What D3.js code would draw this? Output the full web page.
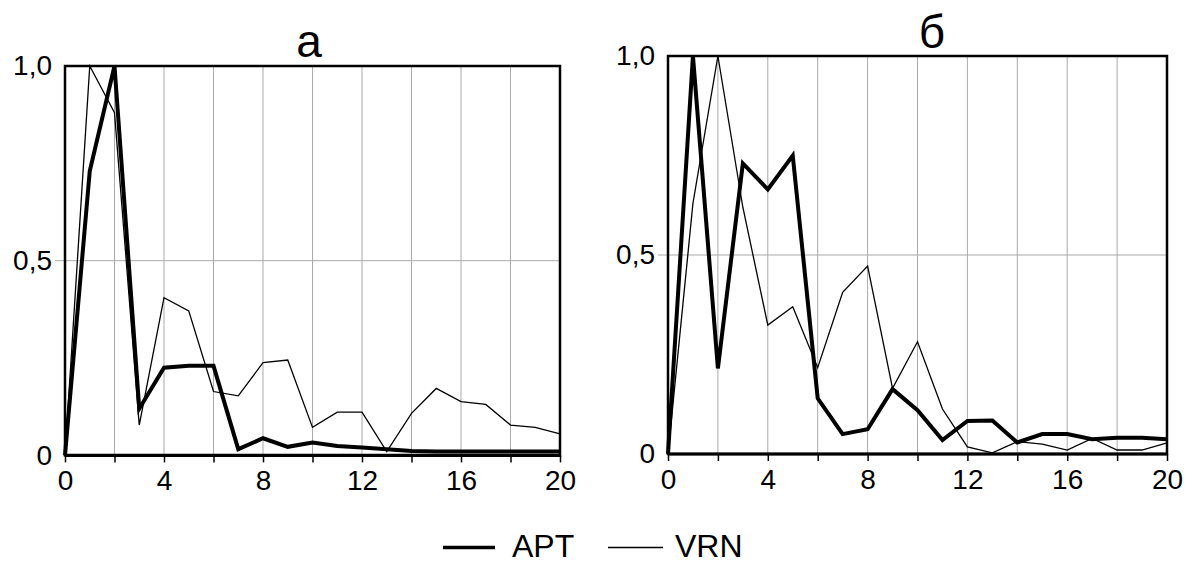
<!DOCTYPE html>
<html><head><meta charset="utf-8">
<script src="https://cdn.jsdelivr.net/npm/d3@7"></script>
<style>
body{margin:0;background:#fff;}
svg{display:block;font-family:"Liberation Sans",Arial,sans-serif;}
</style></head>
<body>
<svg id="c" width="1189" height="564"></svg>
<script>
const steps = d3.range(0, 21);
const xTicks = [0, 2, 4, 6, 8, 10, 12, 14, 16, 18, 20];
const yTicks = [0, 0.5, 1];
const yTickLabels = ["0", "0,5", "1,0"];
const panelTitles = ["а", "б"];
const seriesNames = ["APT", "VRN"];

const aptA = [0, 0.73, 1.0, 0.12, 0.225, 0.23, 0.23, 0.016, 0.044, 0.022, 0.033, 0.024, 0.02, 0.016, 0.011, 0.01, 0.01, 0.01, 0.01, 0.01, 0.01];
const vrnA = [0, 1.0, 0.88, 0.078, 0.405, 0.371, 0.164, 0.153, 0.238, 0.245, 0.072, 0.111, 0.111, 0.01, 0.108, 0.172, 0.138, 0.131, 0.078, 0.072, 0.055];
const aptB = [0, 1.0, 0.215, 0.73, 0.665, 0.75, 0.14, 0.05, 0.062, 0.163, 0.11, 0.035, 0.083, 0.084, 0.029, 0.05, 0.05, 0.037, 0.041, 0.041, 0.037];
const vrnB = [0, 0.63, 1.0, 0.62, 0.324, 0.37, 0.217, 0.406, 0.472, 0.165, 0.282, 0.113, 0.018, 0.003, 0.031, 0.025, 0.01, 0.039, 0.01, 0.01, 0.028];

const svg = d3.select("#c");

const panels = [
  {x0: 65, x1: 560, y0: 455.4, y1: 66, title: panelTitles[0], tx: 309, ty: 57, apt: aptA, vrn: vrnA},
  {x0: 668, x1: 1167, y0: 454, y1: 56, title: panelTitles[1], tx: 932, ty: 48, apt: aptB, vrn: vrnB}
];

panels.forEach(p => {
  const x = d3.scaleLinear().domain([0, 20]).range([p.x0, p.x1]);
  const y = d3.scaleLinear().domain([0, 1]).range([p.y0, p.y1]);
  const g = svg.append("g");

  // vertical grid
  g.append("g").selectAll("line").data(xTicks.filter(t => t > 0 && t < 20)).join("line")
    .attr("x1", d => x(d)).attr("x2", d => x(d))
    .attr("y1", y(0)).attr("y2", y(1))
    .attr("stroke", "#aaa").attr("stroke-width", 1);
  // horizontal grid at 0.5
  g.append("line")
    .attr("x1", x(0) - 10).attr("x2", x(20))
    .attr("y1", y(0.5)).attr("y2", y(0.5))
    .attr("stroke", "#aaa").attr("stroke-width", 1);

  // x axis
  const xa = d3.axisBottom(x).tickValues(xTicks).tickSize(7).tickPadding(8)
    .tickFormat(d => d % 4 === 0 ? String(d) : "");
  const gx = g.append("g").attr("transform", `translate(0,${y(0)})`).call(xa);
  gx.select(".domain").remove();
  gx.selectAll(".tick line").attr("stroke", "#000").attr("stroke-width", 1.5);
  gx.selectAll(".tick text").attr("font-size", 28).attr("fill", "#000")
    .attr("font-family", "Liberation Sans, Arial, sans-serif");

  // y axis
  const ya = d3.axisLeft(y).tickValues(yTicks).tickSize(0).tickPadding(13)
    .tickFormat(d => yTickLabels[yTicks.indexOf(d)]);
  const gy = g.append("g").attr("transform", `translate(${x(0)},0)`).call(ya);
  gy.select(".domain").remove();
  gy.selectAll(".tick text").attr("font-size", 28).attr("fill", "#000")
    .attr("font-family", "Liberation Sans, Arial, sans-serif");

  // frame
  g.append("rect")
    .attr("x", x(0)).attr("y", y(1))
    .attr("width", x(20) - x(0)).attr("height", y(0) - y(1))
    .attr("fill", "none").attr("stroke", "#000").attr("stroke-width", 2.5);
  // slightly heavier bottom axis
  g.append("line").attr("x1", x(0)).attr("x2", x(20)).attr("y1", y(0)).attr("y2", y(0))
    .attr("stroke", "#000").attr("stroke-width", 3.2);

  // lines
  const line = d3.line().x((d, i) => x(steps[i])).y(d => y(d));
  g.append("path").datum(p.vrn).attr("d", line)
    .attr("fill", "none").attr("stroke", "#000").attr("stroke-width", 1.3)
    .attr("stroke-linejoin", "miter");
  g.append("path").datum(p.apt).attr("d", line)
    .attr("fill", "none").attr("stroke", "#000").attr("stroke-width", 4)
    .attr("stroke-linejoin", "miter");

  // title
  g.append("text").attr("x", p.tx).attr("y", p.ty).attr("text-anchor", "middle")
    .attr("font-size", 46).attr("fill", "#000").text(p.title);
});

// legend
const leg = svg.append("g");
const legItems = [
  {name: seriesNames[0], w: 3.5, lx0: 443, lx1: 495, tx: 512},
  {name: seriesNames[1], w: 1.3, lx0: 608, lx1: 663, tx: 675}
];
legItems.forEach(it => {
  leg.append("line").attr("x1", it.lx0).attr("x2", it.lx1).attr("y1", 547.5).attr("y2", 547.5)
    .attr("stroke", "#000").attr("stroke-width", it.w);
  leg.append("text").attr("x", it.tx).attr("y", 557).attr("font-size", 32).attr("fill", "#000").text(it.name);
});
</script>
</body></html>
